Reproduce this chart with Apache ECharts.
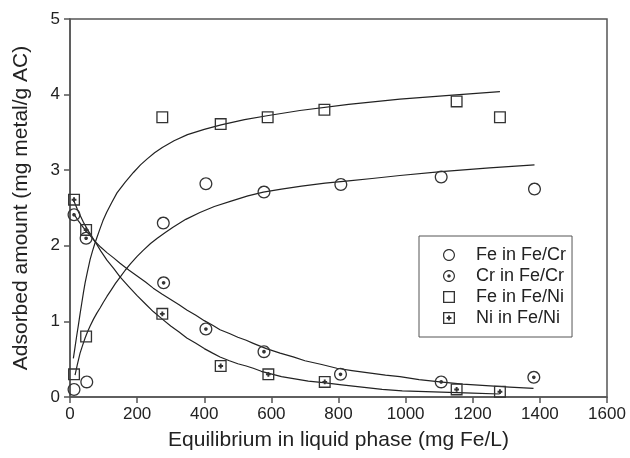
<!DOCTYPE html>
<html>
<head>
<meta charset="utf-8">
<script src="https://cdn.jsdelivr.net/npm/echarts@6/dist/echarts.min.js"></script>
<style>html,body{margin:0;padding:0;background:#fff}#c{width:630px;height:458px}</style>
</head>
<body>
<div id="c"></div>
<script>
// ---- data ----
const seriesNames = ['Fe in Fe/Cr', 'Cr in Fe/Cr', 'Fe in Fe/Ni', 'Ni in Fe/Ni'];
const xTicks = [0, 200, 400, 600, 800, 1000, 1200, 1400, 1600];
const yTicks = [0, 1, 2, 3, 4, 5];

const feCrX = [12, 50, 278, 405, 578, 807, 1106, 1384];
const feCrY = [0.10, 0.20, 2.30, 2.82, 2.71, 2.81, 2.91, 2.75];
const crCrX = [12, 48, 279, 405, 578, 806, 1106, 1382];
const crCrY = [2.41, 2.10, 1.51, 0.90, 0.60, 0.30, 0.20, 0.26];
const feNiX = [12, 48, 275, 449, 589, 758, 1152, 1281];
const feNiY = [0.30, 0.80, 3.70, 3.61, 3.70, 3.80, 3.91, 3.70];
const niNiX = [12, 48, 275, 449, 591, 759, 1152, 1281];
const niNiY = [2.61, 2.21, 1.10, 0.41, 0.30, 0.20, 0.10, 0.07];

// fitted curves
const fitFeNiX = [10, 15, 20, 25, 30, 35, 40, 45, 52, 60, 67, 74, 81, 89, 98, 109, 124, 140, 164, 189, 210, 230, 252, 275, 310, 350, 400, 450, 520, 587, 685, 830, 983, 1130, 1281];
const fitFeNiY = [0.51, 0.66, 0.81, 0.95, 1.10, 1.24, 1.38, 1.51, 1.66, 1.82, 1.93, 2.03, 2.12, 2.22, 2.33, 2.44, 2.57, 2.70, 2.84, 2.97, 3.07, 3.15, 3.23, 3.30, 3.39, 3.47, 3.54, 3.60, 3.67, 3.72, 3.79, 3.87, 3.94, 3.99, 4.04];
const fitFeCrX = [15, 22, 30, 38, 45, 52, 60, 70, 80, 90, 99, 110, 122, 135, 150, 165, 180, 200, 218, 240, 260, 285, 308, 345, 387, 430, 480, 530, 576, 630, 690, 760, 830, 900, 983, 1106, 1250, 1384];
const fitFeCrY = [0.29, 0.43, 0.58, 0.69, 0.78, 0.86, 0.94, 1.03, 1.11, 1.18, 1.25, 1.33, 1.41, 1.50, 1.59, 1.68, 1.76, 1.86, 1.94, 2.03, 2.10, 2.18, 2.25, 2.35, 2.44, 2.52, 2.59, 2.66, 2.71, 2.75, 2.79, 2.83, 2.86, 2.89, 2.93, 2.98, 3.03, 3.07];
const fitCrX = [10, 25, 40, 57, 74, 92, 110, 130, 149, 175, 200, 225, 248, 275, 300, 325, 348, 375, 400, 425, 447, 475, 500, 525, 546, 585, 626, 665, 700, 750, 795, 840, 890, 940, 983, 1040, 1102, 1170, 1240, 1310, 1381];
const fitCrY = [2.43, 2.33, 2.24, 2.15, 2.06, 1.98, 1.91, 1.84, 1.77, 1.68, 1.60, 1.52, 1.44, 1.36, 1.29, 1.22, 1.15, 1.08, 1.01, 0.95, 0.89, 0.84, 0.79, 0.75, 0.71, 0.64, 0.58, 0.53, 0.48, 0.43, 0.38, 0.35, 0.32, 0.29, 0.27, 0.23, 0.20, 0.17, 0.15, 0.13, 0.115];
const fitNiX = [10, 25, 40, 57, 74, 92, 110, 130, 149, 175, 200, 225, 248, 275, 300, 325, 348, 375, 400, 425, 447, 475, 500, 525, 546, 570, 596, 630, 670, 710, 755, 810, 870, 930, 990, 1060, 1130, 1200, 1280];
const fitNiY = [2.61, 2.45, 2.31, 2.18, 2.06, 1.93, 1.81, 1.70, 1.59, 1.46, 1.34, 1.23, 1.13, 1.03, 0.94, 0.86, 0.78, 0.71, 0.64, 0.58, 0.53, 0.48, 0.44, 0.41, 0.38, 0.34, 0.31, 0.27, 0.24, 0.21, 0.19, 0.16, 0.13, 0.10, 0.08, 0.07, 0.06, 0.05, 0.04];

// ---- symbol shapes ----
function circ(cx, cy, r, ccw) {
  const k = 0.5523 * r;
  if (!ccw) return `M${cx},${cy-r}C${cx+k},${cy-r} ${cx+r},${cy-k} ${cx+r},${cy}C${cx+r},${cy+k} ${cx+k},${cy+r} ${cx},${cy+r}C${cx-k},${cy+r} ${cx-r},${cy+k} ${cx-r},${cy}C${cx-r},${cy-k} ${cx-k},${cy-r} ${cx},${cy-r}Z`;
  return `M${cx},${cy-r}C${cx-k},${cy-r} ${cx-r},${cy-k} ${cx-r},${cy}C${cx-r},${cy+k} ${cx-k},${cy+r} ${cx},${cy+r}C${cx+k},${cy+r} ${cx+r},${cy+k} ${cx+r},${cy}C${cx+r},${cy-k} ${cx+k},${cy-r} ${cx},${cy-r}Z`;
}
function rect(x0, y0, x1, y1, ccw) {
  if (!ccw) return `M${x0},${y0}L${x1},${y0}L${x1},${y1}L${x0},${y1}Z`;
  return `M${x0},${y0}L${x0},${y1}L${x1},${y1}L${x1},${y0}Z`;
}
const a = 30, b = 70, t0 = 42, t1 = 58;
const plus = `M${t0},${a}L${t1},${a}L${t1},${t0}L${b},${t0}L${b},${t1}L${t1},${t1}L${t1},${b}L${t0},${b}L${t0},${t1}L${a},${t1}L${a},${t0}L${t0},${t0}Z`;
const symRing = 'path://' + circ(50, 50, 50, false) + circ(50, 50, 40, true);
const symRingDot = 'path://' + circ(50, 50, 50, false) + circ(50, 50, 40, true) + circ(50, 50, 14, false);
const symSq = 'path://' + rect(0, 0, 100, 100, false) + rect(11, 11, 89, 89, true);
const symSqPlus = 'path://' + rect(0, 0, 100, 100, false) + rect(11, 11, 89, 89, true) + plus;

const zip = (xs, ys) => xs.map((x, i) => [x, ys[i]]);
const FONT = "'Liberation Sans', Arial, sans-serif";
const MARK = '#333';
const AX = '#555';

function scatter(name, xs, ys, sym, size) {
  return {
    name, type: 'scatter', data: zip(xs, ys), symbol: sym, symbolSize: size,
    symbolKeepAspect: true, itemStyle: { color: MARK, opacity: 1 }, z: 3,
    emphasis: { disabled: true }
  };
}
function fit(xs, ys) {
  return {
    type: 'line', data: zip(xs, ys), showSymbol: false, smooth: false,
    lineStyle: { color: '#222', width: 1.2, join: 'round' }, z: 2, silent: true
  };
}

const chart = echarts.init(document.getElementById('c'), null, { renderer: 'canvas' });
chart.setOption({
  animation: false,
  backgroundColor: '#fff',
  grid: { left: 70, right: 23, top: 19, bottom: 61, show: true, borderColor: AX, borderWidth: 1.5, backgroundColor: 'transparent' },
  xAxis: {
    type: 'value', min: xTicks[0], max: xTicks[xTicks.length - 1], interval: 200,
    name: 'Equilibrium in liquid phase (mg Fe/L)', nameLocation: 'middle', nameGap: 33,
    nameTextStyle: { fontFamily: FONT, fontSize: 21, color: '#222' },
    axisLine: { show: true, lineStyle: { color: AX, width: 1.5 } },
    axisTick: { show: true, inside: false, length: 6, lineStyle: { color: AX, width: 1.5 } },
    axisLabel: { fontFamily: FONT, fontSize: 17, color: '#222', margin: 9, formatter: v => String(v) },
    splitLine: { show: false }
  },
  yAxis: {
    type: 'value', min: yTicks[0], max: yTicks[yTicks.length - 1], interval: 1,
    name: 'Adsorbed amount (mg metal/g AC)', nameLocation: 'middle', nameGap: 38,
    nameTextStyle: { fontFamily: FONT, fontSize: 21, color: '#222' },
    axisLine: { show: true, lineStyle: { color: AX, width: 1.5 } },
    axisTick: { show: true, inside: false, length: 6, lineStyle: { color: AX, width: 1.5 } },
    axisLabel: { fontFamily: FONT, fontSize: 17, color: '#222', margin: 10, formatter: v => String(v) },
    splitLine: { show: false }
  },
  legend: {
    data: seriesNames, orient: 'vertical', left: 419, top: 236,
    padding: [10, 6, 10, 24], itemGap: 3, itemWidth: 12, itemHeight: 12,
    borderColor: AX, borderWidth: 1, backgroundColor: '#fff',
    textStyle: { fontFamily: FONT, fontSize: 18, color: '#222', lineHeight: 18, padding: [0, 0, 0, 16] },
    selectedMode: false
  },
  series: [
    fit(fitFeNiX, fitFeNiY),
    fit(fitFeCrX, fitFeCrY),
    fit(fitCrX, fitCrY),
    fit(fitNiX, fitNiY),
    scatter(seriesNames[0], feCrX, feCrY, symRing, 13),
    scatter(seriesNames[1], crCrX, crCrY, symRingDot, 13),
    scatter(seriesNames[2], feNiX, feNiY, symSq, 12),
    scatter(seriesNames[3], niNiX, niNiY, symSqPlus, 12)
  ]
});
</script>
</body>
</html>
